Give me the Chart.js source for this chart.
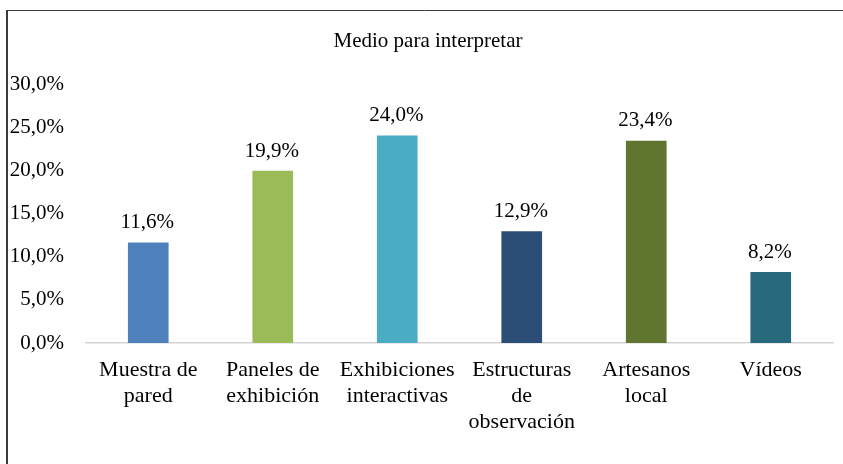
<!DOCTYPE html>
<html>
<head>
<meta charset="utf-8">
<script src="https://cdn.jsdelivr.net/npm/chart.js@4"></script>
<style>
  html, body { margin: 0; padding: 0; background: #fff; }
  #wrap { position: relative; width: 843px; height: 464px; }
</style>
</head>
<body>
<div id="wrap"><canvas id="myChart"></canvas></div>
<script>
const categories = [
    ['Muestra de', 'pared'],
    ['Paneles de', 'exhibición'],
    ['Exhibiciones', 'interactivas'],
    ['Estructuras', 'de', 'observación'],
    ['Artesanos', 'local'],
    ['Vídeos']
];
const values = [11.6, 19.9, 24.0, 12.9, 23.4, 8.2];
const barColors = ['#4f81bd', '#9bbb59', '#4bacc6', '#2c4d75', '#5f7530', '#276a7c'];
const yTicks = [0, 5, 10, 15, 20, 25, 30];
const chartTitle = 'Medio para interpretar';

const serif = '"Liberation Serif", "Times New Roman", serif';

function pct(v) {
    return v.toFixed(1).replace('.', ',') + '%';
}

// frame lines (left + top) and the title, placed like the original picture
const framePlugin = {
    id: 'frame',
    beforeDraw(chart) {
        const ctx = chart.ctx;
        ctx.save();
        ctx.strokeStyle = '#3a3a3a';
        ctx.lineWidth = 2;
        ctx.beginPath();
        ctx.moveTo(7, 10);
        ctx.lineTo(7, chart.height);
        ctx.stroke();
        ctx.lineWidth = 1;
        ctx.beginPath();
        ctx.moveTo(6, 10.5);
        ctx.lineTo(chart.width, 10.5);
        ctx.stroke();

        ctx.font = '21px ' + serif;
        ctx.fillStyle = '#000';
        ctx.textAlign = 'center';
        ctx.textBaseline = 'middle';
        ctx.fillText(chartTitle, 428, 41);
        ctx.restore();
    }
};

// value labels above the bars
const valueLabels = {
    id: 'valueLabels',
    afterDatasetsDraw(chart) {
        const ctx = chart.ctx;
        const meta = chart.getDatasetMeta(0);
        ctx.save();
        ctx.font = '21px ' + serif;
        ctx.fillStyle = '#000';
        ctx.textAlign = 'center';
        ctx.textBaseline = 'middle';
        meta.data.forEach((bar, i) => {
            ctx.fillText(pct(values[i]), bar.x - 1, bar.y - 20);
        });
        ctx.restore();
    }
};

const ctx = document.getElementById('myChart').getContext('2d');
new Chart(ctx, {
    type: 'bar',
    data: {
        labels: categories,
        datasets: [{
            data: values,
            backgroundColor: barColors,
            borderWidth: 0,
            barThickness: 40
        }]
    },
    options: {
        responsive: true,
        maintainAspectRatio: false,
        animation: false,
        layout: { padding: { left: 0, right: 10, top: 84, bottom: 0 } },
        plugins: {
            legend: { display: false },
            tooltip: { enabled: false },
            title: { display: false }
        },
        scales: {
            x: {
                grid: { display: false, drawTicks: false },
                border: { display: true, color: '#d4d4d4', width: 1.5 },
                ticks: {
                    color: '#000',
                    padding: 14,
                    maxRotation: 0,
                    autoSkip: false,
                    font: { family: serif, size: 22, lineHeight: 1.18 }
                },
                afterFit(scale) { scale.height = 121; }
            },
            y: {
                min: 0,
                max: 30,
                afterBuildTicks(scale) {
                    scale.ticks = yTicks.map(v => ({ value: v }));
                },
                grid: { display: false, drawTicks: false },
                border: { display: false },
                ticks: {
                    color: '#000',
                    padding: 22,
                    font: { family: serif, size: 21 },
                    callback: v => pct(v)
                },
                afterFit(scale) { scale.width = 86; }
            }
        }
    },
    plugins: [framePlugin, valueLabels]
});
</script>
</body>
</html>
